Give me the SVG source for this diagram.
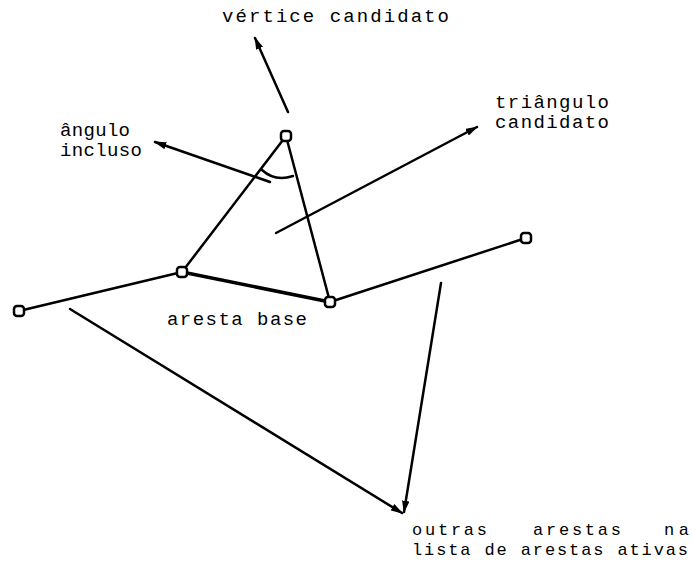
<svg xmlns="http://www.w3.org/2000/svg" width="692" height="562" viewBox="0 0 692 562">
<style>
.t{font-family:"Liberation Mono","Courier New",monospace;font-size:19px;fill:#000}
.b{font-size:17px}
.e{stroke:#000;stroke-width:2.5;fill:none;stroke-linecap:round}
.a{stroke:#000;stroke-width:2.5;fill:none;stroke-linecap:round}
.n{fill:#fff;stroke:#000;stroke-width:2.5}
</style>
<defs>
<marker id="ah" viewBox="0 0 10 6" refX="9" refY="3" markerWidth="5" markerHeight="3" orient="auto" markerUnits="strokeWidth">
<path d="M0,0 L10,3 L0,6 Z" fill="#000"/>
</marker>
</defs>
<rect width="692" height="562" fill="#fff"/>
<g id="connectors">
<line class="e" x1="19" y1="311" x2="182" y2="272"/>
<line class="e" x1="182" y1="272" x2="286" y2="136"/>
<line class="e" x1="286" y1="136" x2="330" y2="302"/>
<line class="e" x1="182" y1="272" x2="330" y2="302" style="stroke-width:3.5"/>
<line class="e" x1="330" y1="302" x2="526" y2="238"/>
<path class="e" d="M262,170 Q275,182 293,176"/>
<line class="a" x1="288" y1="112" x2="255" y2="38" marker-end="url(#ah)"/>
<line class="a" x1="270" y1="182" x2="155" y2="142" marker-end="url(#ah)"/>
<line class="a" x1="276" y1="233" x2="477" y2="127" marker-end="url(#ah)"/>
<line class="a" x1="70" y1="309" x2="402" y2="513" marker-end="url(#ah)"/>
<line class="a" x1="441" y1="283" x2="404" y2="512" marker-end="url(#ah)"/>
</g>
<g id="n1"><rect class="n" x="281" y="131" width="10" height="10" rx="3"/></g>
<g id="n2"><rect class="n" x="177" y="267" width="10" height="10" rx="3"/></g>
<g id="n3"><rect class="n" x="325" y="297" width="10" height="10" rx="3"/></g>
<g id="n4"><rect class="n" x="14" y="306" width="10" height="10" rx="3"/></g>
<g id="n5"><rect class="n" x="521" y="233" width="10" height="10" rx="3"/></g>
<g id="labels">
<text class="t" x="222" y="22" textLength="227" lengthAdjust="spacing">vértice candidato</text>
<text class="t" x="495" y="108" textLength="114" lengthAdjust="spacing">triângulo</text>
<text class="t" x="495" y="128" textLength="114" lengthAdjust="spacing">candidato</text>
<text class="t" x="60" y="136" textLength="70" lengthAdjust="spacing">ângulo</text>
<text class="t" x="60" y="156" textLength="82" lengthAdjust="spacing">incluso</text>
<text class="t" x="167" y="325" textLength="140" lengthAdjust="spacing">aresta base</text>
<text class="t b" x="412" y="535" textLength="75" lengthAdjust="spacing">outras</text>
<text class="t b" x="533" y="535" textLength="88" lengthAdjust="spacing">arestas</text>
<text class="t b" x="664" y="535" textLength="25" lengthAdjust="spacing">na</text>
<text class="t b" x="412" y="555" textLength="276" lengthAdjust="spacing">lista de arestas ativas</text>
</g>
</svg>
